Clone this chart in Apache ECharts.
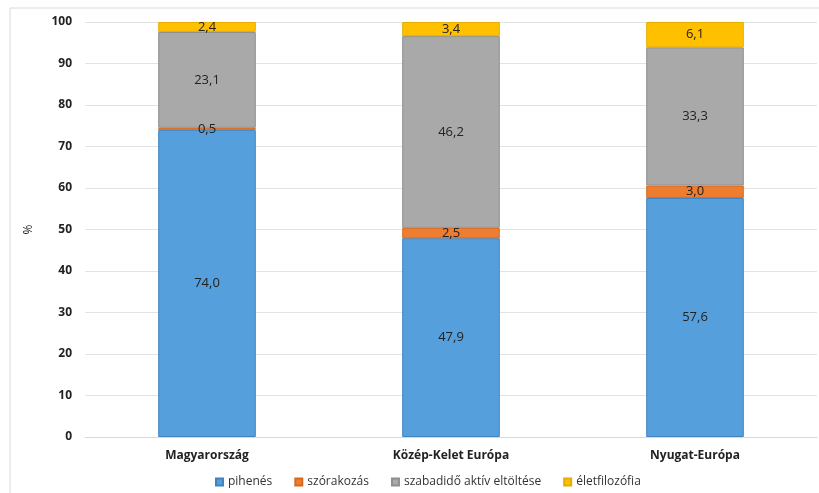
<!DOCTYPE html>
<html>
<head>
<meta charset="utf-8">
<script src="https://cdn.jsdelivr.net/npm/echarts@6/dist/echarts.min.js"></script>
<style>
  html, body { margin: 0; padding: 0; background: #fff; }
  #main { width: 819px; height: 493px; }
</style>
</head>
<body>
<div id="main"></div>
<script>
var categories = ['Magyarország', 'Közép-Kelet Európa', 'Nyugat-Európa'];
var seriesNames = ['pihenés', 'szórakozás', 'szabadidő aktív eltöltése', 'életfilozófia'];
var pihenes = [74.0, 47.9, 57.6];
var szorakozas = [0.5, 2.5, 3.0];
var aktiv = [23.1, 46.2, 33.3];
var eletfilozofia = [2.4, 3.4, 6.1];
var colors = ['#559fdc', '#ed7d31', '#a9a9a9', '#ffc000'];
var borders = ['#3f83c0', '#d86a20', '#8f8f8f', '#e6ad00'];

var chart = echarts.init(document.getElementById('main'));

function makeSeries(name, data, i) {
  return {
    name: name,
    type: 'bar',
    stack: 'total',
    barWidth: '40%',
    data: data,
    itemStyle: { color: colors[i], borderColor: borders[i], borderWidth: 1 },
    label: {
      show: true,
      position: 'inside',
      color: '#222',
      fontSize: 13,
      fontFamily: 'Open Sans',
      formatter: function (p) { return p.value.toFixed(1).replace('.', ','); }
    }
  };
}

var option = {
  backgroundColor: '#fff',
  animation: false,
  textStyle: { fontFamily: 'Open Sans' },
  grid: { left: 85, right: 2, top: 22, bottom: 56 },
  graphic: [{
    type: 'polyline',
    shape: { points: [[10, 493], [10, 8], [819, 8]] },
    style: { stroke: '#d9d9d9', lineWidth: 1, fill: null }
  }],
  legend: {
    bottom: 0,
    left: 210,
    itemWidth: 7,
    itemHeight: 7,
    itemGap: 22,
    icon: 'rect',
    textStyle: { color: '#333', fontSize: 12, fontFamily: 'Open Sans' },
    data: seriesNames
  },
  xAxis: {
    type: 'category',
    data: categories,
    axisLine: { lineStyle: { color: '#d9d9d9' } },
    axisTick: { show: false },
    axisLabel: { color: '#222', fontSize: 12, fontWeight: 'bold', margin: 13, fontFamily: 'Open Sans' }
  },
  yAxis: {
    type: 'value',
    min: 0,
    max: 100,
    interval: 10,
    name: '%',
    nameLocation: 'middle',
    nameGap: 50,
    nameRotate: 90,
    nameTextStyle: { color: '#222', fontSize: 12 },
    axisLine: { show: false },
    axisTick: { show: false },
    splitLine: { lineStyle: { color: '#e3e3e3' } },
    axisLabel: { color: '#222', fontSize: 12, fontWeight: 'bold', margin: 13, fontFamily: 'Open Sans' }
  },
  series: [
    makeSeries(seriesNames[0], pihenes, 0),
    makeSeries(seriesNames[1], szorakozas, 1),
    makeSeries(seriesNames[2], aktiv, 2),
    makeSeries(seriesNames[3], eletfilozofia, 3)
  ]
};

chart.setOption(option);
</script>
</body>
</html>
